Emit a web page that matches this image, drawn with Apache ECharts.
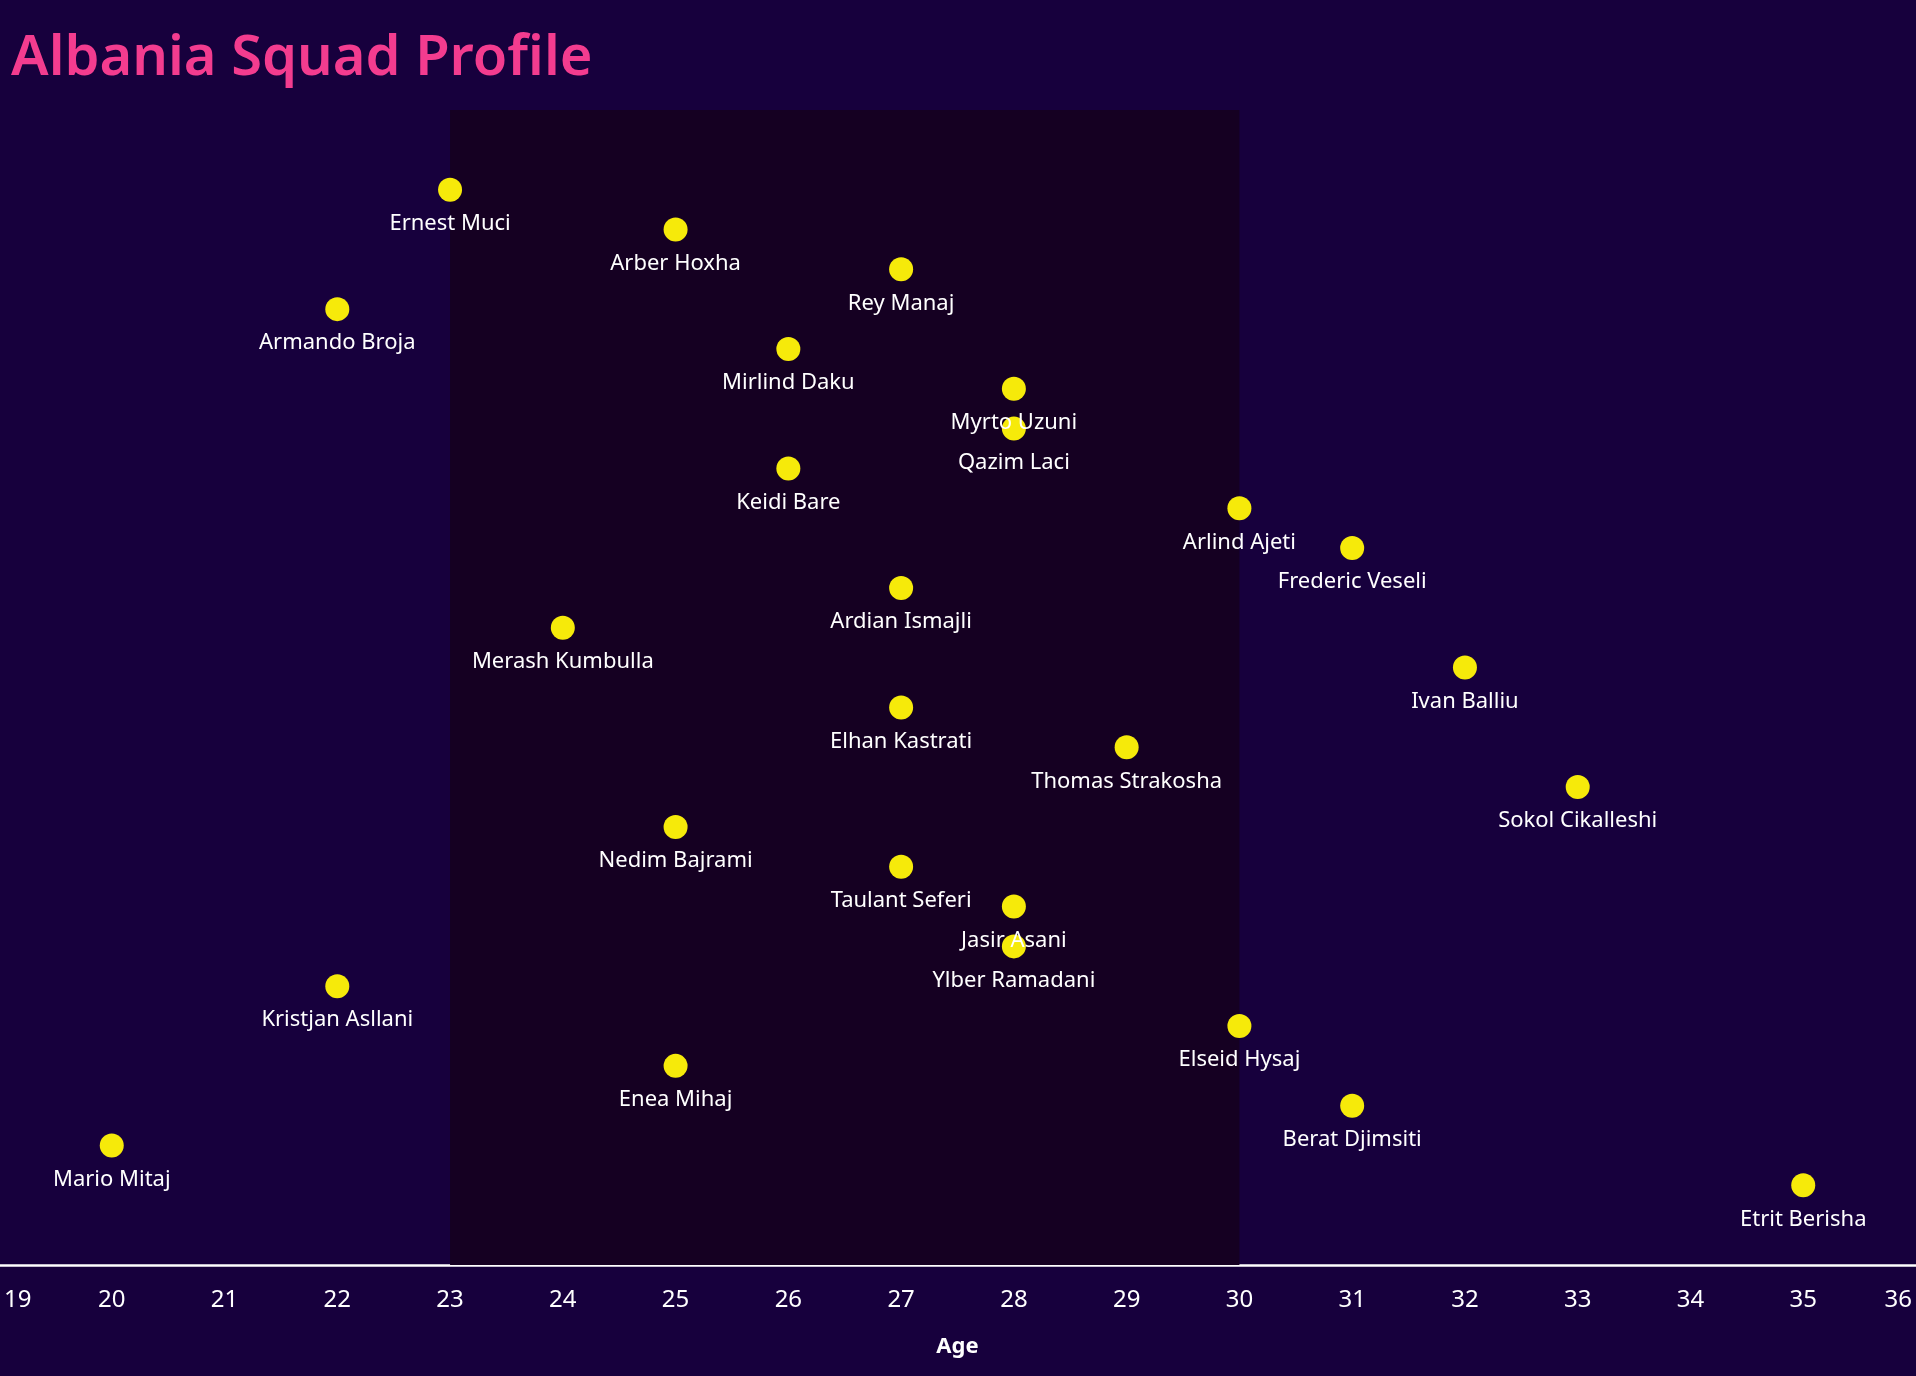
<!DOCTYPE html>
<html>
<head>
<meta charset="utf-8">
<script src="https://cdn.jsdelivr.net/npm/echarts@6/dist/echarts.min.js"></script>
<style>
html,body{margin:0;padding:0;background:#17003d;}
#chart{width:1916px;height:1376px;}
</style>
</head>
<body>
<div id="chart"></div>
<script>
// Players listed top to bottom as they appear in the chart
const players = [
  "Ernest Muci","Arber Hoxha","Rey Manaj","Armando Broja","Mirlind Daku",
  "Myrto Uzuni","Qazim Laci","Keidi Bare","Arlind Ajeti","Frederic Veseli",
  "Ardian Ismajli","Merash Kumbulla","Ivan Balliu","Elhan Kastrati","Thomas Strakosha",
  "Sokol Cikalleshi","Nedim Bajrami","Taulant Seferi","Jasir Asani","Ylber Ramadani",
  "Kristjan Asllani","Elseid Hysaj","Enea Mihaj","Berat Djimsiti","Mario Mitaj",
  "Etrit Berisha"
];
const ages = [
  23,25,27,22,26,
  28,28,26,30,31,
  27,24,32,27,29,
  33,25,27,28,28,
  22,30,25,31,20,
  35
];
const rankOrder = [
  1,2,3,4,5,6,7,8,9,10,11,12,13,14,15,16,17,18,19,20,21,22,23,24,25,26
];
const ageTicks = [19,20,21,22,23,24,25,26,27,28,29,30,31,32,33,34,35,36];
const peakBand = [23, 30];

const points = players.map((n, i) => ({ name: n, value: [ages[i], rankOrder[i]] }));
const minAge = ageTicks[0];
const maxAge = ageTicks[ageTicks.length - 1];

const chart = echarts.init(document.getElementById('chart'), null, { renderer: 'canvas' });
chart.setOption({
  backgroundColor: '#17003d',
  animation: false,
  title: {
    text: 'Albania Squad Profile',
    left: 6,
    top: 26,
    textStyle: {
      color: '#f33c8f',
      fontFamily: 'Noto Sans',
      fontWeight: 600,
      fontSize: 56
    }
  },
  grid: { left: -1, right: 0, top: 110, bottom: 111, containLabel: false, outerBoundsMode: 'none' },
  xAxis: {
    type: 'value',
    min: minAge,
    max: maxAge,
    interval: 1,
    name: 'Age',
    nameLocation: 'middle',
    nameGap: 71,
    nameTextStyle: { color: '#ffffff', fontFamily: 'Noto Sans', fontWeight: 'bold', fontSize: 22 },
    axisLine: { show: true, onZero: false, lineStyle: { color: '#ffffff', width: 2.5 } },
    axisTick: { show: false },
    splitLine: { show: false },
    axisLabel: {
      color: '#ffffff',
      fontFamily: 'Noto Sans',
      fontSize: 24,
      margin: 23,
      alignMinLabel: 'left',
      alignMaxLabel: 'right',
      showMinLabel: true,
      showMaxLabel: true,
      formatter: v => v === minAge ? '{lo|' + v + '}' : (v === maxAge ? '{hi|' + v + '}' : String(v)),
      rich: {
        lo: { color: '#ffffff', fontFamily: 'Noto Sans', fontSize: 24, padding: [0, 0, 0, 5] },
        hi: { color: '#ffffff', fontFamily: 'Noto Sans', fontSize: 24, padding: [0, 4, 0, 0] }
      }
    }
  },
  yAxis: {
    type: 'value',
    inverse: true,
    min: -1,
    max: 28,
    show: false,
    splitLine: { show: false }
  },
  series: [{
    type: 'scatter',
    data: points,
    symbol: 'circle',
    symbolSize: 24,
    itemStyle: { color: '#f6ea0a', opacity: 1 },
    label: {
      show: true,
      position: 'bottom',
      distance: 11,
      formatter: p => p.name,
      color: '#ffffff',
      fontFamily: 'Noto Sans',
      fontSize: 22,
      lineHeight: 22
    },
    markArea: {
      silent: true,
      itemStyle: { color: '#150022', opacity: 1 },
      data: [[{ xAxis: peakBand[0] }, { xAxis: peakBand[1] }]]
    },
    z: 3
  }]
});
</script>
</body>
</html>
